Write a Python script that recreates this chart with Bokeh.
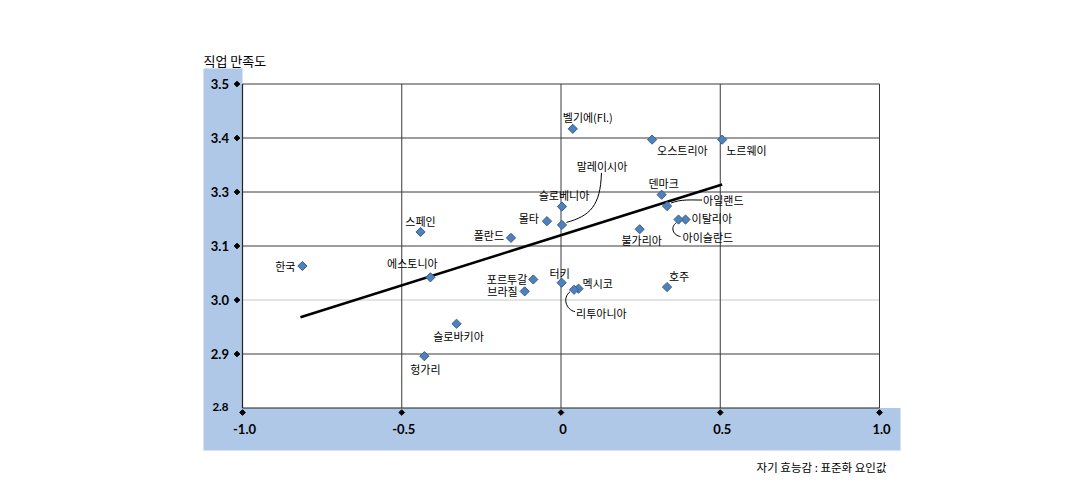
import numpy as np
from bokeh.plotting import figure
from bokeh.models import Range1d, ColumnDataSource
from bokeh.core.properties import value
from bokeh.embed import file_html
from bokeh.resources import INLINE

# ---------------- data ----------------
COUNTRIES = ["한국", "스페인", "에스토니아", "폴란드", "몰타", "슬로베니아", "말레이시아",
             "벨기에(Fl.)", "오스트리아", "노르웨이", "덴마크", "아일랜드", "이탈리아",
             "아이슬란드", "불가리아", "포르투갈", "브라질", "터키", "멕시코", "리투아니아",
             "호주", "슬로바키아", "헝가리"]
SELF_EFFICACY = [-0.812, -0.441, -0.410, -0.157, -0.044, 0.003, 0.003,
                 0.037, 0.286, 0.506, 0.316, 0.333, 0.391,
                 0.369, 0.247, -0.087, -0.114, 0.002, 0.055, 0.041,
                 0.333, -0.328, -0.429]
JOB_SATISFACTION = [3.063, 3.126, 3.042, 3.115, 3.146, 3.173, 3.139,
                    3.317, 3.297, 3.297, 3.195, 3.174, 3.149,
                    3.149, 3.131, 3.038, 3.016, 3.032, 3.021, 3.019,
                    3.024, 2.956, 2.896]
TREND_X = [-0.818, 0.506]
TREND_Y = [2.968, 3.214]

X_TICKS = [-1.0, -0.5, 0.0, 0.5, 1.0]
X_TICK_LABELS = ["-1.0", "-0.5", "0", "0.5", "1.0"]
Y_TICKS = [2.8, 2.9, 3.0, 3.1, 3.2, 3.3, 3.4]
Y_TICK_LABELS = ["2.8", "2.9", "3.0", "3.1", "3.3", "3.4", "3.5"]
Y_TITLE = "직업 만족도"
X_TITLE = "자기 효능감 : 표준화 요인값"

# ---------------- layout (pixels) ----------------
W, H = 1078, 490
FRAME_L, FRAME_R, FRAME_T, FRAME_B = 195, 910, 40, 485
X0_PX, PX_PER_X = 560.5, 318.5      # pixel of x = 0, pixels per unit
Y0_PX, PX_PER_Y = 407.5, 540.0      # pixel of lowest y tick, pixels per unit
BAND_L, BAND_R, BAND_T, BAND_B = 203, 900, 68, 450

def x_of(px):
    return (px - X0_PX) / PX_PER_X

def y_of(py):
    return Y_TICKS[0] + (Y0_PX - py) / PX_PER_Y

def dx(d):
    return d / PX_PER_X

def dy(d):   # d positive = down on screen
    return -d / PX_PER_Y

# label placement: align, dx, dy (px; dy positive = down)
LABEL_PLACE = {
    "한국": ("right", -7, 0), "스페인": ("center", 0, -11), "에스토니아": ("center", -18, -14),
    "폴란드": ("right", -7, -3), "몰타": ("right", -8, -3), "슬로베니아": ("center", 2, -12),
    "말레이시아": ("center", 40, -59), "벨기에(Fl.)": ("center", 15, -12),
    "오스트리아": ("left", 5, 10), "노르웨이": ("left", 4, 10), "덴마크": ("center", 2, -12),
    "아일랜드": ("left", 36, -6), "이탈리아": ("left", 6, -2), "아이슬란드": ("left", 4, 17),
    "불가리아": ("center", 2, 11), "포르투갈": ("right", -6, 0), "브라질": ("right", -7, 0),
    "터키": ("center", -2, -10), "멕시코": ("left", 4, -6), "리투아니아": ("left", 2, 23),
    "호주": ("center", 12, -11), "슬로바키아": ("center", 2, 12), "헝가리": ("center", 1, 13),
}
# leader curves relative to point (px): start, c0, c1, end
LEADERS = {
    "말레이시아": [(39.5, -52), (38.5, -19), (28, -9), (4.5, -2.5)],
    "아일랜드": [(4, -3), (14, -7), (24, -6), (35, -6)],
    "아이슬란드": [(-2, 3), (-9, 8), (-5, 16), (2, 17)],
    "리투아니아": [(-4, 2), (-12, 8), (-8, 20), (1, 22)],
}

p = figure(width=W, height=H,
           x_range=Range1d(x_of(FRAME_L), x_of(FRAME_R)),
           y_range=Range1d(y_of(FRAME_B), y_of(FRAME_T)),
           output_backend="svg", toolbar_location=None,
           x_axis_location=None, y_axis_location=None,
           min_border_left=FRAME_L, min_border_right=W - FRAME_R,
           min_border_top=FRAME_T, min_border_bottom=H - FRAME_B)
p.grid.visible = False
p.outline_line_color = None
p.background_fill_color = "white"
p.border_fill_color = "white"

BAND = "#b0c8e8"
xmin, ymin = X_TICKS[0], Y_TICKS[0]
p.quad(left=[x_of(BAND_L)], right=[xmin], top=[y_of(BAND_T)], bottom=[ymin],
       fill_color=BAND, line_color=None)
p.quad(left=[x_of(BAND_L)], right=[x_of(BAND_R)], top=[ymin], bottom=[y_of(BAND_B)],
       fill_color=BAND, line_color=None)

# grid lines
for yt in Y_TICKS[1:]:
    col = "#c8c8c8" if abs(yt - 3.0) < 1e-9 else "#3a3a3a"
    p.segment(x0=[X_TICKS[0]], x1=[X_TICKS[-1]], y0=[yt], y1=[yt], line_color=col, line_width=1)
for xt in X_TICKS[1:]:
    p.segment(x0=[xt], x1=[xt], y0=[Y_TICKS[0]], y1=[Y_TICKS[-1]], line_color="#3a3a3a", line_width=1)
# axes
p.segment(x0=[xmin], x1=[xmin], y0=[ymin], y1=[Y_TICKS[-1]], line_color="#222222", line_width=1.2)
p.segment(x0=[xmin], x1=[X_TICKS[-1]], y0=[ymin], y1=[ymin], line_color="#222222", line_width=1.2)

# tick diamonds
p.scatter(x=[xmin - dx(5.5)] * (len(Y_TICKS) - 1), y=Y_TICKS[1:], marker="square",
          angle=np.pi / 4, size=4, fill_color="black", line_color="black")
p.scatter(x=X_TICKS, y=[ymin + dy(4.5)] * len(X_TICKS), marker="square",
          angle=np.pi / 4, size=4, fill_color="black", line_color="black")

TICK_FONT = value("Lato")
p.text(x=[xmin] * (len(Y_TICKS) - 1), y=Y_TICKS[1:], text=Y_TICK_LABELS[1:], x_offset=-13.5,
       text_align="right", text_baseline="middle", text_font=TICK_FONT,
       text_font_size="13px", text_font_style="bold", text_color="black")
p.text(x=[xmin], y=[ymin], text=Y_TICK_LABELS[:1], x_offset=-14, y_offset=-1,
       text_align="right", text_baseline="middle", text_font=TICK_FONT,
       text_font_size="11.5px", text_font_style="bold", text_color="black")
p.text(x=X_TICKS, y=[ymin] * len(X_TICKS), text=X_TICK_LABELS, y_offset=21, x_offset=2,
       text_align="center", text_baseline="middle", text_font=TICK_FONT,
       text_font_size="13px", text_font_style="bold", text_color="black")

KFONT = value("Noto Sans CJK KR")
p.text(x=[x_of(203)], y=[y_of(60)], text=[Y_TITLE], text_align="left", text_baseline="middle",
       text_font=KFONT, text_font_size="13px", text_color="black")
p.text(x=[x_of(886)], y=[y_of(466)], text=[X_TITLE], text_align="right", text_baseline="middle",
       text_font=KFONT, text_font_size="11.5px", text_color="black")

# trend line
p.line(x=TREND_X, y=TREND_Y, line_color="black", line_width=2.5)

# leader lines
pts = dict(zip(COUNTRIES, zip(SELF_EFFICACY, JOB_SATISFACTION)))
for name, ctrl in LEADERS.items():
    px0, py0 = pts[name]
    (a, b), (c, d), (e, f), (g, h) = ctrl
    p.bezier(x0=[px0 + dx(a)], y0=[py0 + dy(b)], cx0=[px0 + dx(c)], cy0=[py0 + dy(d)],
             cx1=[px0 + dx(e)], cy1=[py0 + dy(f)], x1=[px0 + dx(g)], y1=[py0 + dy(h)],
             line_color="black", line_width=1)

# points
p.scatter(x=SELF_EFFICACY, y=JOB_SATISFACTION, marker="square", angle=np.pi / 4, size=6.5,
          fill_color="#4f81bd", line_color="#385d8a", line_width=1)

# labels
for align in ("left", "center", "right"):
    names = [n for n in COUNTRIES if LABEL_PLACE[n][0] == align]
    src = ColumnDataSource(dict(
        x=[pts[n][0] for n in names], y=[pts[n][1] for n in names], t=names,
        xo=[LABEL_PLACE[n][1] for n in names], yo=[LABEL_PLACE[n][2] for n in names]))
    p.text(x="x", y="y", text="t", x_offset="xo", y_offset="yo", source=src,
           text_align=align, text_baseline="middle", text_font=KFONT,
           text_font_size="11px", text_color="black")

open("out.html", "w").write(file_html(p, INLINE))
